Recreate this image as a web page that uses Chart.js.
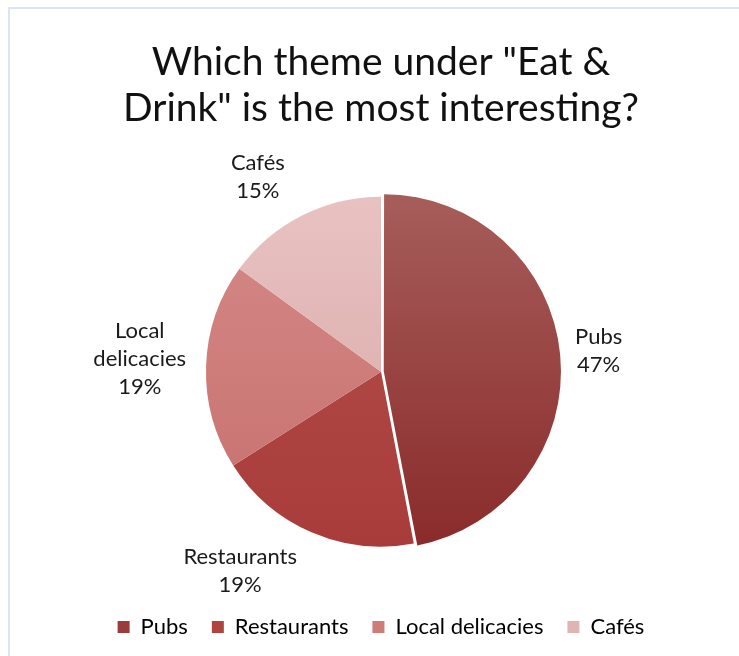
<!DOCTYPE html>
<html>
<head>
<meta charset="utf-8">
<script src="https://cdn.jsdelivr.net/npm/chart.js@4.4.1/dist/chart.umd.min.js"></script>
<style>
  html, body { margin: 0; padding: 0; background: #fff; }
  #wrap { position: relative; width: 739px; height: 656px; }
  #frame { position: absolute; left: 8px; top: 7px; right: 0; bottom: 0;
           border-left: 2px solid #dbe5f4; border-top: 2px solid #dbe5f4; }
  canvas { position: absolute; left: 0; top: 0; }
</style>
</head>
<body>
<div id="wrap">
  <div id="frame"></div>
  <canvas id="pieChart" width="739" height="656"></canvas>
</div>
<script>
const titleLines = ['Which theme under "Eat &', 'Drink" is the most interesting?'];
const themes = ['Pubs', 'Restaurants', 'Local delicacies', 'Cafés'];
const shares = [47, 19, 19, 15];

// slice shading: top colour, bottom colour, flat colour for the legend swatch
const shades = [
  ['#a65d5a', '#8a2b2b', '#983d3b'],
  ['#b5504d', '#a83c3a', '#b0443f'],
  ['#d58a88', '#c66f6d', '#cd7c7a'],
  ['#e8c2c1', '#d7a6a5', '#e0b4b3']
];
const FONT = 'Lato, "Noto Sans", sans-serif';

function sliceFill(ctx) {
  const chart = ctx.chart;
  const area = chart.chartArea;
  const s = shades[ctx.dataIndex];
  if (!area) return s[2];
  const cy = (area.top + area.bottom) / 2;
  const g = chart.ctx.createLinearGradient(0, cy - 175, 0, cy + 175);
  g.addColorStop(0, s[0]);
  g.addColorStop(1, s[1]);
  return g;
}

// outside-end labels with the category name and its percentage
const sliceLabels = {
  id: 'sliceLabels',
  afterDatasetsDraw(chart, args, opts) {
    const ctx = chart.ctx;
    const meta = chart.getDatasetMeta(0);
    const data = chart.data.datasets[0].data;
    const total = data.reduce((a, b) => a + b, 0);
    ctx.save();
    ctx.font = opts.size + 'px ' + FONT;
    ctx.fillStyle = '#1a1a1a';
    ctx.textAlign = 'center';
    ctx.textBaseline = 'middle';
    meta.data.forEach((arc, i) => {
      const p = arc.getProps(['x', 'y', 'startAngle', 'endAngle', 'outerRadius']);
      const mid = (p.startAngle + p.endAngle) / 2;
      const dx = Math.cos(mid), dy = Math.sin(mid);
      const name = chart.data.labels[i];
      const lines = ctx.measureText(name).width > opts.wrap ? name.split(' ') : [name];
      lines.push(Math.round(data[i] / total * 100) + '%');
      const w = Math.max(...lines.map(l => ctx.measureText(l).width));
      const h = lines.length * opts.lineHeight;
      const r = p.outerRadius + opts.gap;
      const nudge = opts.nudge[i] || [0, 0];
      const cx = p.x + dx * r + dx * w / 2 + nudge[0];
      const cy = p.y + dy * r + dy * h / 2 + nudge[1];
      lines.forEach((l, k) => {
        ctx.fillText(l, cx, cy - h / 2 + opts.lineHeight * (k + 0.5));
      });
    });
    ctx.restore();
  }
};

new Chart(document.getElementById('pieChart').getContext('2d'), {
  type: 'pie',
  data: {
    labels: themes,
    datasets: [{
      data: shares,
      backgroundColor: sliceFill,
      borderWidth: 0,
      offset: [11, 0, 0, 0]
    }]
  },
  options: {
    responsive: false,
    animation: false,
    radius: 175,
    layout: { padding: { top: 14, left: 23, right: 0, bottom: 8 } },
    plugins: {
      tooltip: { enabled: false },
      title: {
        display: true,
        text: titleLines,
        color: '#111',
        font: { family: FONT, size: 39, weight: 'normal', lineHeight: 1.17 },
        padding: { top: 26, bottom: 20 }
      },
      legend: {
        position: 'bottom',
        labels: {
          color: '#1a1a1a',
          font: { family: FONT, size: 22 },
          boxWidth: 12,
          boxHeight: 12,
          padding: 24,
          generateLabels(chart) {
            return chart.data.labels.map((l, i) => ({
              text: l,
              fillStyle: shades[i][2],
              strokeStyle: shades[i][2],
              lineWidth: 0,
              index: i
            }));
          }
        }
      },
      sliceLabels: {
        size: 22,
        lineHeight: 28,
        gap: 12,
        wrap: 120,
        nudge: [[8, 0], [-44, 2], [-8, -6], [-26, -3]]
      }
    }
  },
  plugins: [sliceLabels]
});
</script>
</body>
</html>
